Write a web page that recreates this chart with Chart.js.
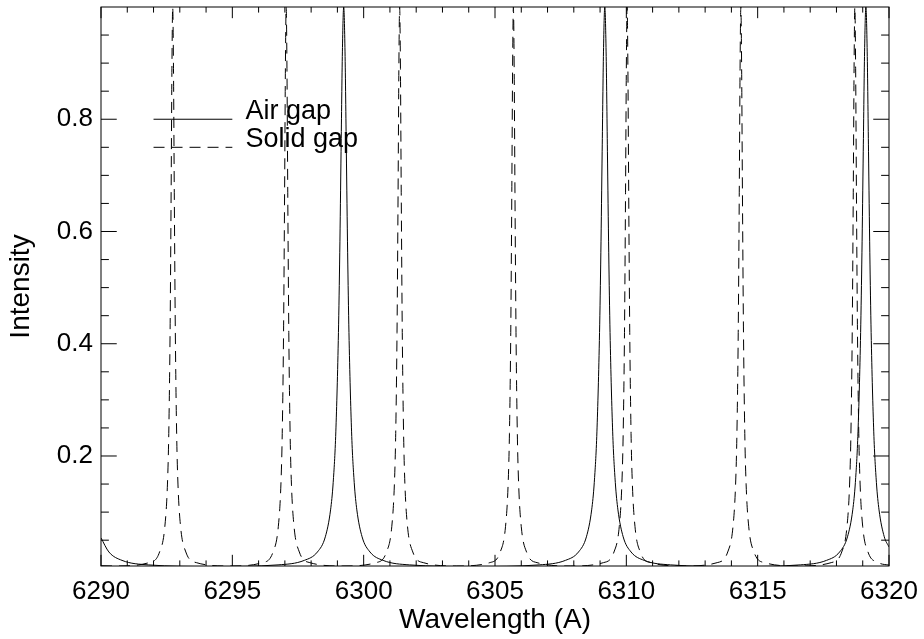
<!DOCTYPE html>
<html>
<head>
<meta charset="utf-8">
<script src="https://cdn.jsdelivr.net/npm/chart.js@4.4.1/dist/chart.umd.min.js"></script>
<style>
  html, body { margin: 0; padding: 0; background: #fff; }
  #wrap { width: 924px; height: 639px; }
</style>
</head>
<body>
<div id="wrap"><canvas id="fp"></canvas></div>
<script>
// axis ranges and tick labels
const xRange = [6290, 6320];
const yRange = [0.004, 1.0];
const xTickLabels = [6290, 6295, 6300, 6305, 6310, 6315, 6320];
const yTickLabels = [0.2, 0.4, 0.6, 0.8];

// Air gap (solid line)
const airGapWl = [
  6290.00, 6290.30, 6290.80, 6291.80, 6294.27, 6296.74, 6297.74, 6298.24, 6298.54, 6298.74,
  6298.84, 6298.94, 6299.04, 6299.09, 6299.14, 6299.19, 6299.24, 6299.29, 6299.34, 6299.39,
  6299.44, 6299.54, 6299.64, 6299.74, 6299.94, 6300.24, 6300.74, 6301.74, 6304.21, 6306.68,
  6307.68, 6308.18, 6308.48, 6308.68, 6308.78, 6308.88, 6308.98, 6309.03, 6309.08, 6309.13,
  6309.18, 6309.23, 6309.28, 6309.33, 6309.38, 6309.48, 6309.58, 6309.68, 6309.88, 6310.18,
  6310.68, 6311.68, 6314.15, 6316.62, 6317.62, 6318.12, 6318.42, 6318.62, 6318.72, 6318.82,
  6318.92, 6318.97, 6319.02, 6319.07, 6319.12, 6319.17, 6319.22, 6319.27, 6319.32, 6319.42,
  6319.52, 6319.62, 6319.82, 6320.00
];
const airGapInt = [
  0.054, 0.029, 0.014, 0.006, 0.003, 0.006, 0.014, 0.029, 0.056, 0.104,
  0.153, 0.243, 0.420, 0.562, 0.743, 0.920, 1.000, 0.920, 0.743, 0.562,
  0.420, 0.243, 0.153, 0.104, 0.056, 0.029, 0.014, 0.006, 0.003, 0.006,
  0.014, 0.029, 0.056, 0.104, 0.153, 0.243, 0.420, 0.562, 0.743, 0.920,
  1.000, 0.920, 0.743, 0.562, 0.420, 0.243, 0.153, 0.104, 0.056, 0.029,
  0.014, 0.006, 0.003, 0.006, 0.014, 0.029, 0.056, 0.104, 0.153, 0.243,
  0.420, 0.562, 0.743, 0.920, 1.000, 0.920, 0.743, 0.562, 0.420, 0.243,
  0.153, 0.104, 0.056, 0.038
];

// Solid gap (dashed line)
const solidGapWl = [
  6290.00, 6290.57,
  6291.83, 6292.23, 6292.43, 6292.53, 6292.58, 6292.63, 6292.67, 6292.70, 6292.73,
  6292.76, 6292.79, 6292.83, 6292.88, 6292.93, 6293.03, 6293.23, 6293.63, 6294.89,
  6296.15, 6296.55, 6296.75, 6296.85, 6296.90, 6296.95, 6296.99, 6297.02, 6297.05,
  6297.08, 6297.11, 6297.15, 6297.20, 6297.25, 6297.35, 6297.55, 6297.95, 6299.21,
  6300.47, 6300.87, 6301.07, 6301.17, 6301.22, 6301.27, 6301.31, 6301.34, 6301.37,
  6301.40, 6301.43, 6301.47, 6301.52, 6301.57, 6301.67, 6301.87, 6302.27, 6303.54,
  6304.80, 6305.20, 6305.40, 6305.50, 6305.55, 6305.60, 6305.64, 6305.67, 6305.70,
  6305.73, 6305.76, 6305.80, 6305.85, 6305.90, 6306.00, 6306.20, 6306.60, 6307.87,
  6309.13, 6309.53, 6309.73, 6309.83, 6309.88, 6309.93, 6309.97, 6310.00, 6310.03,
  6310.06, 6310.09, 6310.13, 6310.18, 6310.23, 6310.33, 6310.53, 6310.93, 6312.20,
  6313.46, 6313.86, 6314.06, 6314.16, 6314.21, 6314.26, 6314.30, 6314.33, 6314.36,
  6314.39, 6314.42, 6314.46, 6314.51, 6314.56, 6314.66, 6314.86, 6315.26, 6316.53,
  6317.80, 6318.20, 6318.40, 6318.50, 6318.55, 6318.60, 6318.64, 6318.67, 6318.70,
  6318.73, 6318.76, 6318.80, 6318.85, 6318.90, 6319.00, 6319.20, 6319.60, 6320.00
];
const solidGapInt = [
  0.0045, 0.004,
  0.010, 0.029, 0.074, 0.15, 0.24, 0.42, 0.67, 0.89, 1.0,
  0.89, 0.67, 0.42, 0.24, 0.15, 0.074, 0.029, 0.010, 0.004,
  0.010, 0.029, 0.074, 0.15, 0.24, 0.42, 0.67, 0.89, 1.0,
  0.89, 0.67, 0.42, 0.24, 0.15, 0.074, 0.029, 0.010, 0.004,
  0.010, 0.029, 0.074, 0.15, 0.24, 0.42, 0.67, 0.89, 1.0,
  0.89, 0.67, 0.42, 0.24, 0.15, 0.074, 0.029, 0.010, 0.004,
  0.010, 0.029, 0.074, 0.15, 0.24, 0.42, 0.67, 0.89, 1.0,
  0.89, 0.67, 0.42, 0.24, 0.15, 0.074, 0.029, 0.010, 0.004,
  0.010, 0.029, 0.074, 0.15, 0.24, 0.42, 0.67, 0.89, 1.0,
  0.89, 0.67, 0.42, 0.24, 0.15, 0.074, 0.029, 0.010, 0.004,
  0.010, 0.029, 0.074, 0.15, 0.24, 0.42, 0.67, 0.89, 1.0,
  0.89, 0.67, 0.42, 0.24, 0.15, 0.074, 0.029, 0.010, 0.004,
  0.010, 0.029, 0.074, 0.15, 0.24, 0.42, 0.67, 0.89, 1.0,
  0.89, 0.67, 0.42, 0.24, 0.15, 0.074, 0.029, 0.010, 0.0055
];

// legend drawn in data coordinates, like the original plot
const legendLabels = ["Air gap", "Solid gap"];
const legendLineX = [6292, 6295];
const legendLineY = [0.8, 0.75];
const legendTextX = 6295.5;

const fontName = '"Liberation Sans", Arial, Helvetica, sans-serif';

function pairs(xs, ys) {
  return xs.map(function (v, i) { return { x: v, y: ys[i] }; });
}

// frame with inward ticks on all four sides + legend text
const idlFrame = {
  id: "idlFrame",
  afterDatasetsDraw(chart) {
    const ctx = chart.ctx;
    const a = chart.chartArea;
    const xs = chart.scales.x;
    const ys = chart.scales.y;
    const xLen = 0.02 * (a.bottom - a.top);
    const yLen = 0.02 * (a.right - a.left);
    ctx.save();
    ctx.strokeStyle = "#000";
    ctx.lineWidth = 1;
    ctx.strokeRect(a.left, a.top, a.right - a.left, a.bottom - a.top);
    ctx.beginPath();
    for (let v = xRange[0]; v <= xRange[1]; v++) {
      const px = xs.getPixelForValue(v);
      const len = v % 5 === 0 ? xLen : xLen / 2;
      ctx.moveTo(px, a.bottom);
      ctx.lineTo(px, a.bottom - len);
      ctx.moveTo(px, a.top);
      ctx.lineTo(px, a.top + len);
    }
    for (let k = 1; k <= 19; k++) {
      const py = ys.getPixelForValue(k * 0.05);
      const len = k % 4 === 0 ? yLen : yLen / 2;
      ctx.moveTo(a.left, py);
      ctx.lineTo(a.left + len, py);
      ctx.moveTo(a.right, py);
      ctx.lineTo(a.right - len, py);
    }
    ctx.stroke();

    ctx.fillStyle = "#000";
    ctx.font = "27px " + fontName;
    ctx.textAlign = "left";
    ctx.textBaseline = "alphabetic";
    legendLabels.forEach(function (t, i) {
      ctx.fillText(t, xs.getPixelForValue(legendTextX), ys.getPixelForValue(legendLineY[i]));
    });
    ctx.restore();
  }
};

const dash = [11, 7];

new Chart(document.getElementById("fp"), {
  type: "line",
  data: {
    datasets: [
      {
        label: legendLabels[0],
        data: pairs(airGapWl, airGapInt),
        borderColor: "#000",
        borderWidth: 1,
        cubicInterpolationMode: "monotone",
      },
      {
        label: legendLabels[1],
        data: pairs(solidGapWl, solidGapInt),
        borderColor: "#000",
        borderWidth: 1,
        borderDash: dash,
        cubicInterpolationMode: "monotone",
      },
      {
        label: "legend air",
        data: pairs(legendLineX, [legendLineY[0], legendLineY[0]]),
        borderColor: "#000",
        borderWidth: 1,
      },
      {
        label: "legend solid",
        data: pairs(legendLineX, [legendLineY[1], legendLineY[1]]),
        borderColor: "#000",
        borderWidth: 1,
        borderDash: dash,
      },
    ],
  },
  options: {
    responsive: true,
    maintainAspectRatio: false,
    animation: false,
    devicePixelRatio: 1,
    elements: { point: { radius: 0 } },
    layout: { padding: { top: 7, right: 35, left: 0, bottom: 0 } },
    plugins: {
      legend: { display: false },
      tooltip: { enabled: false },
    },
    scales: {
      x: {
        type: "linear",
        min: xRange[0],
        max: xRange[1],
        afterBuildTicks: function (scale) {
          scale.ticks = xTickLabels.map(function (v) { return { value: v }; });
        },
        afterFit: function (scale) {
          scale.height = 73;
          scale.paddingLeft = 0;
          scale.paddingRight = 0;
        },
        grid: { display: false, drawTicks: false },
        border: { display: false },
        ticks: {
          color: "#000",
          padding: 10,
          maxRotation: 0,
          autoSkip: false,
          font: { family: fontName, size: 26 },
          callback: function (v) { return String(v); },
        },
        title: {
          display: true,
          text: "Wavelength (A)",
          color: "#000",
          font: { family: fontName, size: 28 },
          padding: { top: 0, bottom: 2 },
        },
      },
      y: {
        min: yRange[0],
        max: yRange[1],
        afterBuildTicks: function (scale) {
          scale.ticks = yTickLabels.map(function (v) { return { value: v }; });
        },
        afterFit: function (scale) {
          scale.width = 101;
          scale.paddingTop = 0;
          scale.paddingBottom = 0;
        },
        grid: { display: false, drawTicks: false },
        border: { display: false },
        ticks: {
          color: "#000",
          padding: 8,
          font: { family: fontName, size: 26 },
          callback: function (v) { return v.toFixed(1); },
        },
        title: {
          display: true,
          text: "Intensity",
          color: "#000",
          font: { family: fontName, size: 28 },
          padding: { top: 4, bottom: 0 },
        },
      },
    },
  },
  plugins: [idlFrame],
});
</script>
</body>
</html>
